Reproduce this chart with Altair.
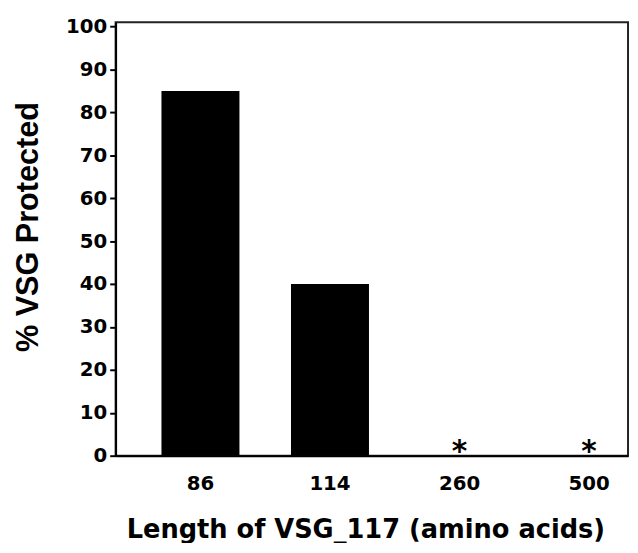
import altair as alt
import pandas as pd

lengths = ["86", "114", "260", "500"]
protected = [85, 40, 0, 0]
notes = ["", "", "*", "*"]

df = pd.DataFrame({"length": lengths, "pct": protected, "note": notes})

x = alt.X(
    "length:N",
    sort=lengths,
    scale=alt.Scale(paddingInner=0.398, paddingOuter=0.177, align=1),
    axis=alt.Axis(
        title="Length of VSG_117 (amino acids)",
        labelAngle=0,
        ticks=False,
        labelPadding=18,
        labelFont="DejaVu Sans",
        labelFontWeight="bold",
        labelFontSize=20,
        labelColor="black",
        domainColor="black",
        domainWidth=2,
        titleFont="DejaVu Sans",
        titleFontWeight="bold",
        titleFontSize=26,
        titleColor="black",
        titleX=253,
        titleY=75,
        titleBaseline="middle",
        titleAlign="center",
    ),
)

y = alt.Y(
    "pct:Q",
    scale=alt.Scale(domain=[0, 101], nice=False),
    axis=alt.Axis(
        title="% VSG Protected",
        values=list(range(0, 101, 10)),
        grid=False,
        tickSize=6,
        tickWidth=2,
        tickColor="black",
        labelPadding=3,
        labelFont="DejaVu Sans",
        labelFontWeight="bold",
        labelFontSize=20,
        labelColor="black",
        domainColor="black",
        domainWidth=2,
        titleFont="Liberation Sans",
        titleFontWeight="bold",
        titleFontSize=31,
        titleColor="black",
        titleX=-88,
        titleY=207,
        titleAngle=270,
        titleBaseline="middle",
        titleAlign="center",
    ),
)

bars = alt.Chart(df).mark_bar(color="black").encode(x=x, y=y)

stars = alt.Chart(df).mark_text(
    font="DejaVu Sans", fontWeight="bold", fontSize=30, baseline="alphabetic", dy=5, color="black"
).encode(x=alt.X("length:N", sort=lengths), y=alt.Y("pct:Q"), text="note:N")

chart = (
    alt.layer(bars, stars)
    .properties(
        width=519,
        height=439,
        autosize=alt.AutoSizeParams(type="none"),
        padding={"left": 109, "top": 11, "right": 2, "bottom": 85},
        background="white",
    )
    .configure_view(stroke="#222", strokeWidth=2)
)

chart.save("out.html", embed_options={"renderer": "svg", "actions": False})
